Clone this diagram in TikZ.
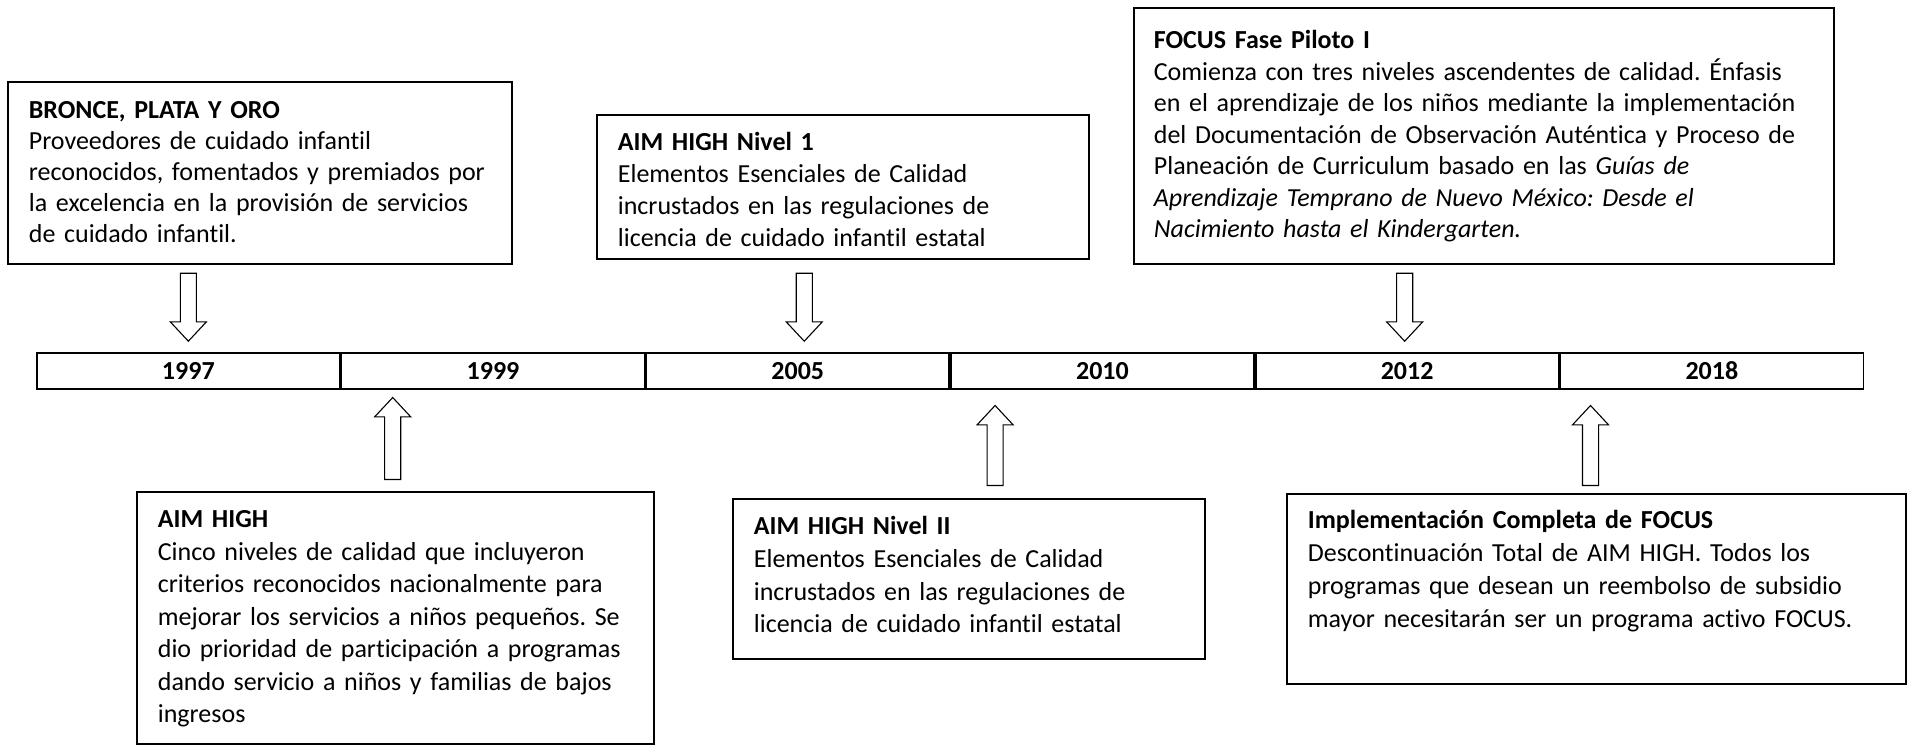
\documentclass[tikz,border=0pt]{standalone}
\usepackage{fontspec}
\setmainfont{Carlito}[Ligatures=NoCommon]
\usepackage{tikz}
\usetikzlibrary{shapes,arrows,positioning}
\tikzstyle{evento} = [rectangle, draw=black, line width=1.7pt, anchor=north west, align=left, inner xsep=21pt, inner ysep=0pt, font=\fontsize{26}{32}\selectfont]
\tikzstyle{anio} = [rectangle, draw=black, line width=1.7pt, minimum width=303pt, minimum height=36pt, inner sep=0pt, font=\fontsize{26}{32}\selectfont\bfseries]
\tikzstyle{flecha} = [single arrow, draw=black, line width=1.1pt, inner sep=7.5pt, minimum width=35pt, single arrow head extend=10pt, single arrow tip angle=86, anchor=tip]
\frenchspacing

\begin{document}
\begin{tikzpicture}[x=1pt, y=-1pt]
        \useasboundingbox (0,0) rectangle (1910,745);

        % linea de tiempo
        \node (c1997) [anio, anchor=north west] at (36,352) {1997};
        \node (c1999) [anio, right=0pt of c1997] {1999};
        \node (c2005) [anio, right=0pt of c1999] {2005};
        \node (c2010) [anio, right=0pt of c2005] {2010};
        \node (c2012) [anio, right=0pt of c2010] {2012};
        \node (c2018) [anio, right=0pt of c2012] {2018};

        % eventos arriba
        \node (bronce) [evento, text width=462pt, text height=37pt, text depth=145pt, font=\fontsize{26}{31}\selectfont] at (7,81) {\textbf{BRONCE, PLATA Y ORO}\\ Proveedores de cuidado infantil\\ reconocidos, fomentados y premiados por\\ la excelencia en la provisión de servicios\\ de cuidado infantil.};
        \node (nivel1) [evento, text width=450pt, text height=36pt, text depth=108pt] at (596,114) {\textbf{AIM HIGH Nivel 1}\\ Elementos Esenciales de Calidad\\ incrustados en las regulaciones de\\ licencia de cuidado infantil estatal};
        \node (piloto) [evento, inner xsep=20pt, text width=660pt, text height=41pt, text depth=215pt, font=\fontsize{26}{31.5}\selectfont] at (1133,7) {\textbf{FOCUS Fase Piloto I}\\ Comienza con tres niveles ascendentes de calidad. Énfasis\\ en el aprendizaje de los niños mediante la implementación\\ del Documentación de Observación Auténtica y Proceso de\\ Planeación de Curriculum basado en las \textit{Guías de}\\ \textit{Aprendizaje Temprano de Nuevo México: Desde el}\\ \textit{Nacimiento hasta el Kindergarten.}};

        \node (f1997) [flecha, shape border rotate=270, minimum height=68pt] at ([yshift=10pt]c1997.north) {};
        \node (f2005) [flecha, shape border rotate=270, minimum height=68pt] at ([xshift=6.5pt, yshift=10pt]c2005.north) {};
        \node (f2012) [flecha, shape border rotate=270, minimum height=68pt] at ([xshift=-2.5pt, yshift=10pt]c2012.north) {};

        % eventos abajo
        \node (aimhigh) [evento, text width=475pt, text height=36pt, text depth=216pt, font=\fontsize{26}{32.5}\selectfont] at (136,491) {\textbf{AIM HIGH}\\ Cinco niveles de calidad que incluyeron\\ criterios reconocidos nacionalmente para\\ mejorar los servicios a niños pequeños. Se\\ dio prioridad de participación a programas\\ dando servicio a niños y familias de bajos\\ ingresos};
        \node (nivel2) [evento, text width=430pt, text height=36pt, text depth=124pt, font=\fontsize{26}{32.7}\selectfont] at (732,498) {\textbf{AIM HIGH Nivel II}\\ Elementos Esenciales de Calidad\\ incrustados en las regulaciones de\\ licencia de cuidado infantil estatal};
        \node (completa) [evento, text width=577pt, text height=35pt, text depth=155pt, font=\fontsize{26}{33}\selectfont] at (1286,493) {\textbf{Implementación Completa de FOCUS}\\ Descontinuación Total de AIM HIGH. Todos los\\ programas que desean un reembolso de subsidio\\ mayor necesitarán ser un programa activo FOCUS.};

        \node (f1999) [flecha, shape border rotate=90, minimum height=82pt] at ([xshift=52pt, yshift=-7pt]c1999.south west) {};
        \node (f2010) [flecha, shape border rotate=90, minimum height=80pt] at ([xshift=45pt, yshift=-15pt]c2010.south west) {};
        \node (f2018) [flecha, shape border rotate=90, minimum height=80pt] at ([xshift=31pt, yshift=-15pt]c2018.south west) {};

    \end{tikzpicture}
\end{document}
